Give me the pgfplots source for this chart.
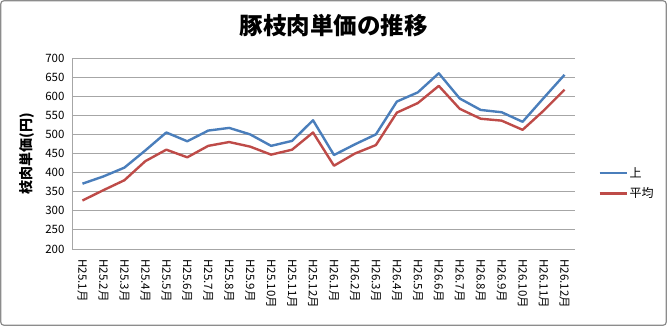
\documentclass[border=0pt]{standalone}
\usepackage{pgfplots}
\pgfplotsset{compat=1.18}
\usepackage{fontspec}
\setmainfont{Noto Sans CJK JP}
\definecolor{excelblue}{HTML}{4A7EBB}
\definecolor{excelred}{HTML}{BE4B48}
\definecolor{gridgray}{HTML}{A6A6A6}
\definecolor{framegray}{HTML}{8C8C8C}
\begin{document}
\begin{tikzpicture}[x=1pt,y=1pt]
\path[use as bounding box] (0,0) rectangle (667,326);
\draw[framegray, line width=1.2pt, rounded corners=3pt] (0.8,0.8) rectangle (666.2,325.2);
\node[font=\fontsize{23.5}{26}\selectfont\bfseries] at (333.5,300) {豚枝肉単価の推移};
\begin{axis}[
  at={(72pt,77pt)}, anchor=south west,
  scale only axis, width=503pt, height=191pt,
  xmin=-0.5, xmax=23.5, ymin=200, ymax=700,
  ytick={200,250,...,700},
  xtick={0,...,23},
  xticklabels={H25.1月,H25.2月,H25.3月,H25.4月,H25.5月,H25.6月,H25.7月,H25.8月,H25.9月,H25.10月,H25.11月,H25.12月,H26.1月,H26.2月,H26.3月,H26.4月,H26.5月,H26.6月,H26.7月,H26.8月,H26.9月,H26.10月,H26.11月,H26.12月},
  xticklabel style={rotate=-90, anchor=west, font=\fontsize{11.5}{13}\selectfont},
  xticklabel shift=7pt,
  yticklabel style={font=\fontsize{11.5}{13}\selectfont},
  yticklabel shift=4pt,
  /pgf/number format/assume math mode=true,
  major tick length=0pt,
  ymajorgrids, grid style={gridgray, line width=0.9pt},
  axis x line*=bottom, axis y line*=left,
  axis line style={gridgray, line width=0.9pt, -},
  x axis line style={draw=none},
  ylabel={枝肉単価(円)},
  ylabel style={at={(axis description cs:-0.09,0.5)}, anchor=center, font=\fontsize{14}{16}\selectfont\bfseries},
  legend style={at={(rel axis cs:1.04,0.343)}, anchor=west, draw=none, fill=none, font=\fontsize{12}{14}\selectfont, row sep=5pt},
  legend cell align=left,
  legend image code/.code={\draw[#1, line width=2.4pt] (0pt,0pt) -- (27pt,0pt);},
  clip=false,
]
\addplot[excelblue, line width=2.4pt, line join=round] coordinates {
(0,371) (1,390) (2,413) (3,458) (4,505) (5,482) (6,510) (7,517) (8,500) (9,470) (10,483) (11,537)
(12,446) (13,474) (14,500) (15,586) (16,610) (17,660) (18,594) (19,564) (20,558) (21,533) (22,595) (23,656)};
\addlegendentry{上}
\addplot[excelred, line width=2.4pt, line join=round] coordinates {
(0,327) (1,354) (2,380) (3,430) (4,460) (5,440) (6,470) (7,480) (8,468) (9,447) (10,460) (11,505)
(12,418) (13,450) (14,472) (15,557) (16,582) (17,627) (18,567) (19,541) (20,536) (21,512) (22,562) (23,617)};
\addlegendentry{平均}
\end{axis}
\end{tikzpicture}
\end{document}
